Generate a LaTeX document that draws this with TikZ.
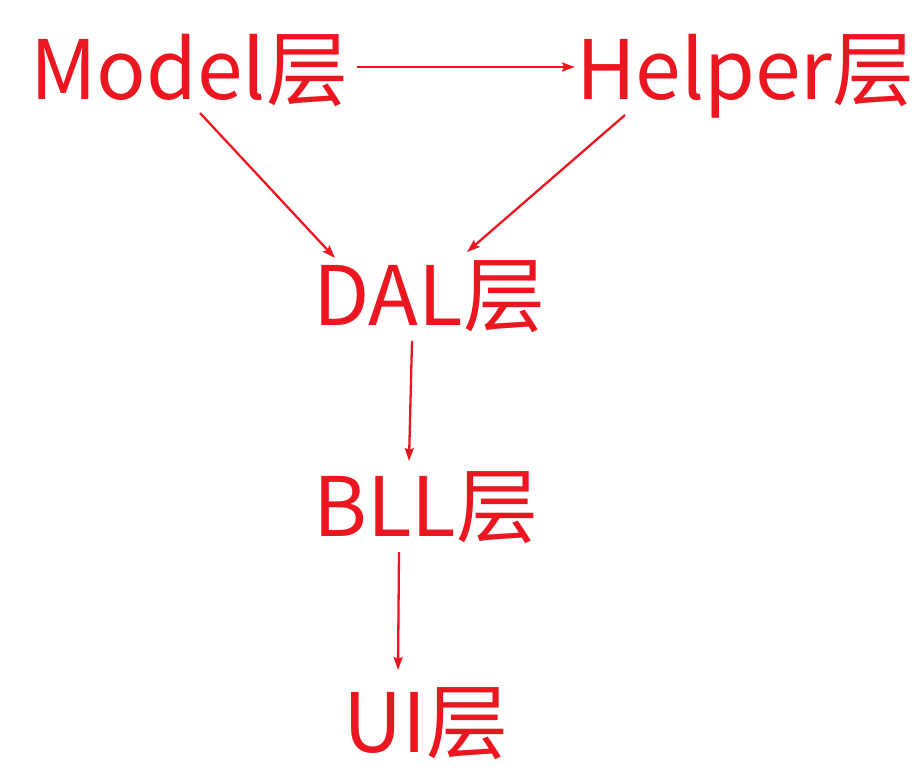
\documentclass[tikz,border=0pt]{standalone}
\usepackage{fontspec}
\newfontfamily\cjk{Noto Sans CJK SC}
\usetikzlibrary{arrows.meta,calc}
\definecolor{lred}{RGB}{235,22,32}
\tikzset{
  layer/.style={inner sep=0pt, anchor=base west, text=lred, font=\cjk\fontsize{82}{90}\selectfont},
  arr/.style={draw=lred, line width=2.3pt, -{Stealth[length=13pt,width=9pt,inset=2pt]}}
}
\begin{document}
\begin{tikzpicture}[x=1pt,y=-1pt]
\useasboundingbox (0,0) rectangle (915,773);
\node[layer] (model) at (30,100) {Model层};
\node[layer] (helper) at (576,100) {Helper层};
\node[layer] (dal) at (313,325) {DAL层};
\node[layer] (bll) at (313,536) {BLL层};
\node[layer] (ui) at (343,752) {UI层};
\draw[arr] ($(model.base west)+(327,-33)$) -- ($(helper.base west)+(-1,-33)$);
\draw[arr] ($(model.base west)+(170,13)$) -- ($(dal.base west)+(22,-67)$);
\draw[arr] ($(helper.base west)+(49,15)$) -- ($(dal.base west)+(154,-73)$);
\draw[arr] ($(dal.base west)+(99,16)$) -- ($(bll.base west)+(96,-75)$);
\draw[arr] ($(bll.base west)+(86,16)$) -- ($(ui.base west)+(55,-82)$);
\end{tikzpicture}
\end{document}
